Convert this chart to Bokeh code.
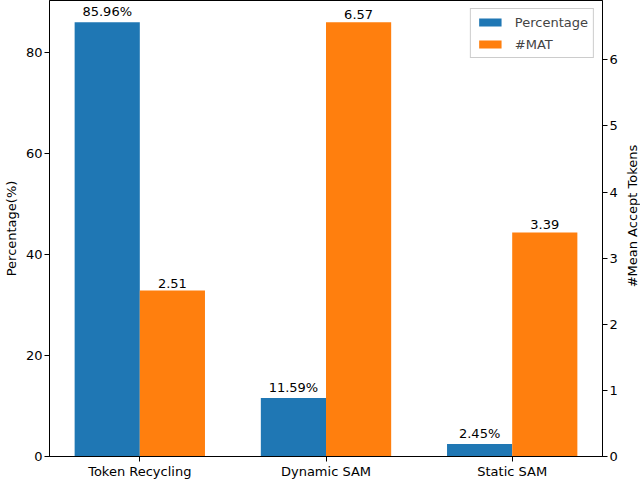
import math
from bokeh.plotting import figure
from bokeh.layouts import row
from bokeh.models import Range1d, LinearAxis, FixedTicker, Legend, LegendItem
from bokeh.core.properties import value
from bokeh.embed import file_html
from bokeh.resources import INLINE

categories = ["Token Recycling", "Dynamic SAM", "Static SAM"]
percentage = [85.96, 11.59, 2.45]
mat = [2.51, 6.57, 3.39]
pct_labels = ["85.96%", "11.59%", "2.45%"]
mat_labels = ["2.51", "6.57", "3.39"]
left_ticks = [0, 20, 40, 60, 80]
right_ticks = [0, 1, 2, 3, 4, 5, 6]
right_title = "#Mean Accept Tokens"

FONT = "DejaVu Sans"
BLUE = "#1f77b4"
ORANGE = "#ff7f0e"
w = 0.35
n = len(categories)
xs = list(range(n))
x_pct = [i - w / 2 for i in xs]
x_mat = [i + w / 2 for i in xs]
span = (n - 1) + 2 * w
pad = 0.05 * span

FW, FH = 553, 456
LW = 24

p = figure(frame_width=FW, frame_height=FH, output_backend="svg", toolbar_location=None,
           x_range=Range1d(-w - pad, (n - 1) + w + pad),
           y_range=Range1d(0, max(percentage) * 1.05),
           min_border=0, min_border_top=0, min_border_left=45, min_border_right=18,
           min_border_bottom=0)
p.extra_y_ranges = {"mat": Range1d(0, max(mat) * 1.05)}

r1 = p.vbar(x=x_pct, top=percentage, width=w, color=BLUE, line_color=None)
r2 = p.vbar(x=x_mat, top=mat, width=w, color=ORANGE, line_color=None, y_range_name="mat")

p.text(x=x_pct, y=percentage, text=pct_labels, text_align="center", text_baseline="bottom",
       y_offset=-3, text_font=value(FONT), text_font_size="13px", text_color="black")
p.text(x=x_mat, y=mat, text=mat_labels, text_align="center", text_baseline="bottom",
       y_offset=-3, text_font=value(FONT), text_font_size="13px", text_color="black",
       y_range_name="mat")

p.xgrid.visible = False
p.ygrid.visible = False
p.outline_line_color = "black"
p.outline_line_alpha = 1
p.outline_line_width = 1
p.background_fill_color = "white"
p.border_fill_color = "white"

p.xaxis.ticker = FixedTicker(ticks=xs)
p.xaxis.major_label_overrides = {i: c for i, c in zip(xs, categories)}
p.yaxis.ticker = FixedTicker(ticks=left_ticks)
p.yaxis.axis_label = "Percentage(%)"

ax2 = LinearAxis(y_range_name="mat", ticker=FixedTicker(ticks=right_ticks))
p.add_layout(ax2, "right")

for ax in p.axis:
    ax.major_tick_in = 0
    ax.major_tick_out = 5
    ax.minor_tick_in = 0
    ax.minor_tick_out = 0
    ax.axis_line_color = "black"
    ax.major_tick_line_color = "black"
    ax.major_label_text_font = FONT
    ax.major_label_text_font_size = "13px"
    ax.major_label_text_color = "black"
    ax.axis_label_text_font = FONT
    ax.axis_label_text_font_size = "13px"
    ax.axis_label_text_font_style = "normal"
    ax.axis_label_text_color = "black"
    ax.axis_label_standoff = 4
    ax.major_label_standoff = 2

legend = Legend(items=[LegendItem(label="Percentage", renderers=[r1]),
                       LegendItem(label="#MAT", renderers=[r2])],
                location="top_right")
legend.label_text_font = FONT
legend.label_text_font_size = "13px"
legend.glyph_width = 28
legend.glyph_height = 10
legend.label_height = 16
legend.label_standoff = 11
legend.spacing = 6
legend.padding = 5
legend.margin = 8
legend.border_line_color = "#cccccc"
legend.border_line_alpha = 1
legend.background_fill_alpha = 0.8
p.add_layout(legend)

# right-hand axis title, reading bottom-to-top, centred on the plot frame
lab = figure(width=LW, height=FH, output_backend="svg", toolbar_location=None,
             x_range=Range1d(0, LW), y_range=Range1d(0, FH),
             x_axis_type=None, y_axis_type=None, min_border=0,
             min_border_left=0, min_border_right=0, min_border_top=0, min_border_bottom=0)
lab.outline_line_color = None
lab.background_fill_color = "white"
lab.border_fill_color = "white"
lab.text(x=[LW / 2], y=[FH / 2], text=[right_title], angle=math.pi / 2,
         text_align="center", text_baseline="middle",
         text_font=value(FONT), text_font_size="13px", text_color="black")

layout = row(p, lab, spacing=0)

open("out.html", "w").write(file_html(layout, INLINE))
